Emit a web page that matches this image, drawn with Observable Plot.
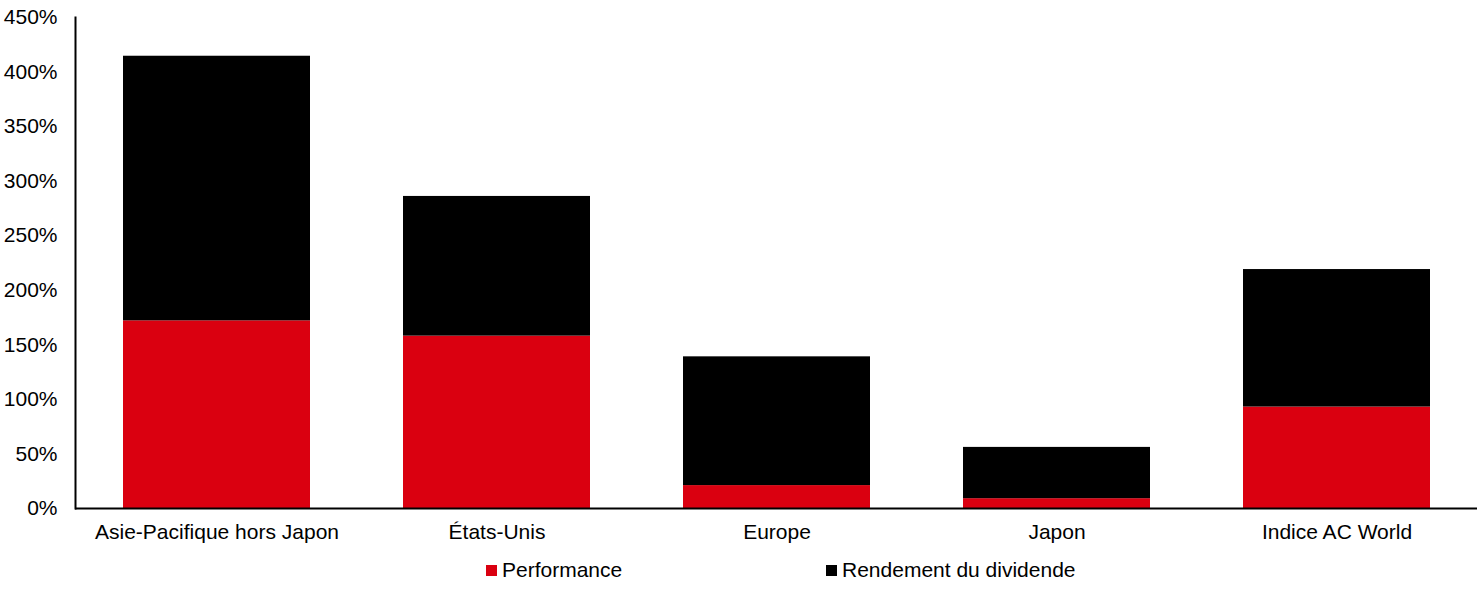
<!DOCTYPE html>
<html>
<head>
<meta charset="utf-8">
<script src="https://cdn.jsdelivr.net/npm/d3@7"></script>
<script src="https://cdn.jsdelivr.net/npm/@observablehq/plot@0.6"></script>
<style>
  html, body { margin: 0; padding: 0; background: #fff; }
  body { width: 1477px; height: 591px; overflow: hidden; font-family: "Liberation Sans", Arial, sans-serif; }
  #legend { position: relative; width: 1477px; height: 41px; font-size: 21px; color: #000; }
  .item { position: absolute; top: 8px; display: flex; align-items: center; }
  .sw { width: 11px; height: 11px; margin-right: 5px; }
</style>
</head>
<body>
<div id="chart"></div>
<div id="legend"></div>
<script>
const categories = ["Asie-Pacifique hors Japon", "États-Unis", "Europe", "Japon", "Indice AC World"];
const seriesNames = ["Performance", "Rendement du dividende"];
const performance = [172, 158, 21, 9, 93];
const dividend = [242.5, 128, 118, 47, 126];
const yTicks = [0, 50, 100, 150, 200, 250, 300, 350, 400, 450];
const colors = ["#DA0010", "#000000"];

const data = [];
categories.forEach((c, i) => {
  data.push({cat: c, series: seriesNames[0], value: performance[i]});
  data.push({cat: c, series: seriesNames[1], value: dividend[i]});
});

const plot = Plot.plot({
  width: 1477,
  height: 550,
  marginLeft: 75,
  marginRight: 0,
  marginTop: 17,
  marginBottom: 42,
  style: {fontFamily: "'Liberation Sans', Arial, sans-serif", fontSize: "21px", color: "#000", background: "#fff"},
  x: {domain: categories, paddingInner: 0.333, paddingOuter: 0.1667, label: null},
  y: {domain: [0, 450], label: null},
  color: {domain: seriesNames, range: colors},
  marks: [
    Plot.barY(data, {x: "cat", y: "value", fill: "series"}),
    Plot.axisY({ticks: yTicks, tickFormat: d => d + "%", tickSize: 0, tickPadding: 18, label: null, fontSize: 21}),
    Plot.axisX({tickSize: 0, tickPadding: 16, label: null, fontSize: 21}),
    Plot.ruleY([0], {stroke: "#000", strokeWidth: 2}),
    Plot.frame({anchor: "left", stroke: "#000", strokeWidth: 2, strokeOpacity: 1})
  ]
});
document.getElementById("chart").appendChild(plot);

const legend = document.getElementById("legend");
const lx = [486, 826];
seriesNames.forEach((s, i) => {
  const it = document.createElement("div");
  it.className = "item";
  it.style.left = lx[i] + "px";
  const sw = document.createElement("span");
  sw.className = "sw";
  sw.style.background = colors[i];
  const t = document.createElement("span");
  t.textContent = s;
  it.appendChild(sw);
  it.appendChild(t);
  legend.appendChild(it);
});
</script>
</body>
</html>
